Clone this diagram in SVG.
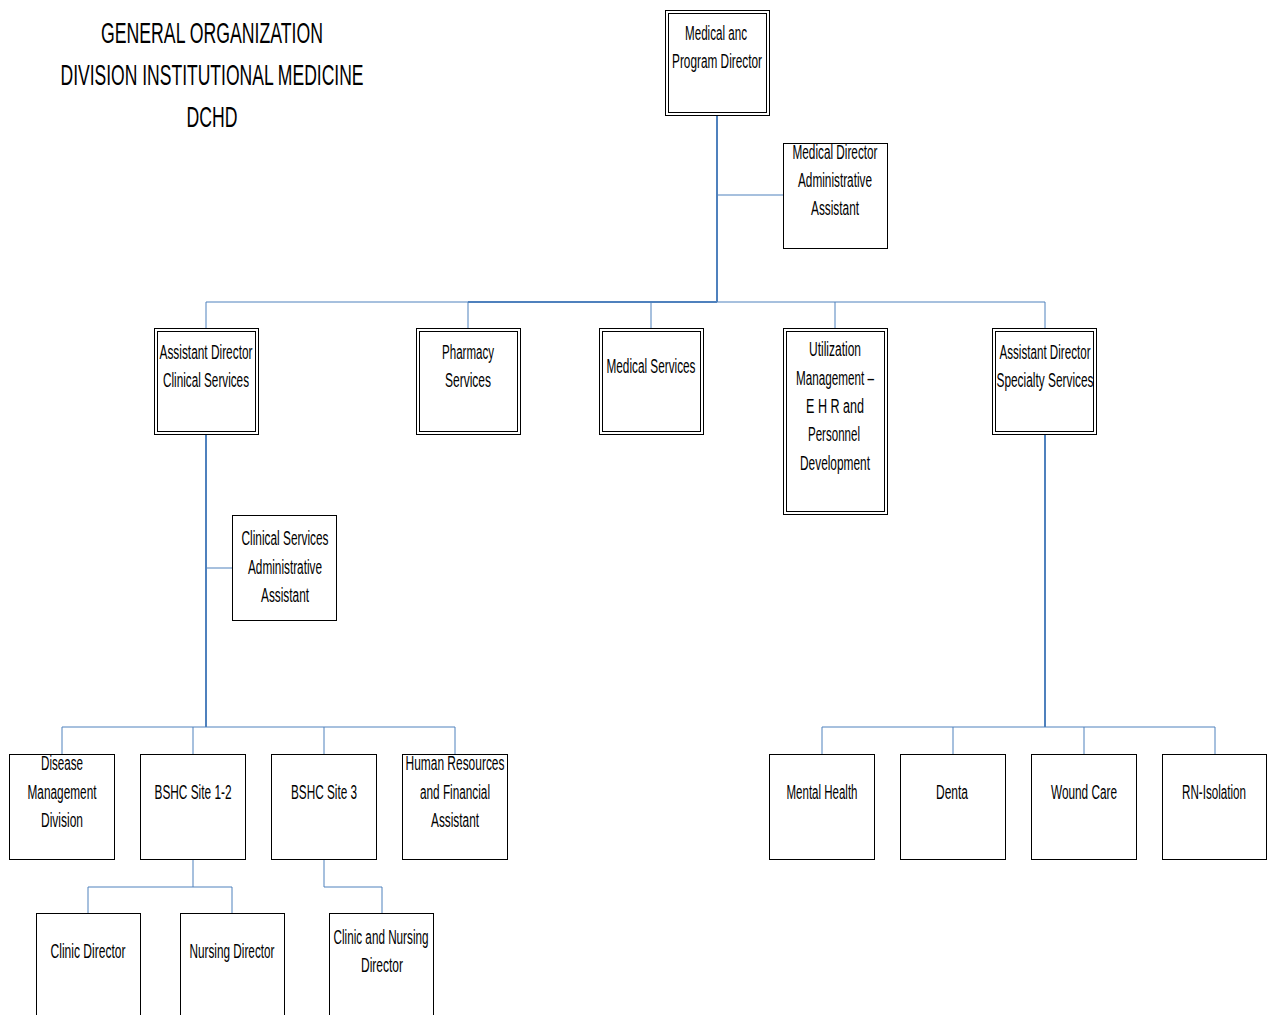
<svg xmlns="http://www.w3.org/2000/svg" width="1268" height="1015" viewBox="0 0 1268 1015">
<style>
.b{fill:#fff;stroke:#000;stroke-width:1}
.i{fill:none;stroke:#000;stroke-width:1}
.t{font-family:"Liberation Sans",Arial,sans-serif;font-size:20px;fill:#000;text-anchor:middle}
.h{font-family:"Liberation Sans",Arial,sans-serif;font-size:29px;fill:#000;text-anchor:middle}
.c{fill:none;stroke:#4F81BD;stroke-width:1}
.k{fill:none;stroke:#4F81BD;stroke-width:2}
</style>
<rect width="1268" height="1015" fill="#fff"/>
<g id="title">
<text class="h" x="212" y="43" textLength="222" lengthAdjust="spacingAndGlyphs">GENERAL ORGANIZATION</text>
<text class="h" x="212" y="85" textLength="303" lengthAdjust="spacingAndGlyphs">DIVISION INSTITUTIONAL MEDICINE</text>
<text class="h" x="212" y="127" textLength="51" lengthAdjust="spacingAndGlyphs">DCHD</text>
</g>
<g id="connectors">
<path class="k" d="M717 115V302"/>
<path class="c" d="M717 195H783"/>
<path class="c" d="M206 302H1045"/>
<path class="k" d="M468 302H717"/>
<path class="c" d="M206 302V328M468 302V328M651 302V328M835 302V328M1045 302V328"/>
<path class="k" d="M206 435V727"/>
<path class="c" d="M206 568H232"/>
<path class="c" d="M62 727H455M62 727V754M193 727V754M324 727V754M455 727V754"/>
<path class="k" d="M1045 435V727"/>
<path class="c" d="M822 727H1215M822 727V754M953 727V754M1084 727V754M1215 727V754"/>
<path class="c" d="M193 860V887M88 887H232M88 887V913M232 887V913"/>
<path class="c" d="M324 860V887H382V913"/>
</g>
<g id="n-medical-program-director">
<rect class="b" x="665.5" y="10.5" width="104" height="105"/>
<rect class="i" x="668.5" y="13.5" width="98" height="99"/>
<text class="t" x="716" y="40" textLength="62" lengthAdjust="spacingAndGlyphs">Medical anc</text>
<text class="t" x="717" y="68" textLength="90" lengthAdjust="spacingAndGlyphs">Program Director</text>
</g>
<g id="n-md-admin-assistant">
<rect class="b" x="783.5" y="143.5" width="104" height="105"/>
<text class="t" x="835" y="159" textLength="85" lengthAdjust="spacingAndGlyphs">Medical Director</text>
<text class="t" x="835" y="187" textLength="74" lengthAdjust="spacingAndGlyphs">Administrative</text>
<text class="t" x="835" y="215" textLength="48" lengthAdjust="spacingAndGlyphs">Assistant</text>
</g>
<g id="n-ad-clinical">
<rect class="b" x="154.5" y="328.5" width="104" height="106"/>
<rect class="i" x="157.5" y="331.5" width="98" height="100"/>
<text class="t" x="206" y="359" textLength="93" lengthAdjust="spacingAndGlyphs">Assistant Director</text>
<text class="t" x="206" y="387" textLength="86" lengthAdjust="spacingAndGlyphs">Clinical Services</text>
</g>
<g id="n-pharmacy">
<rect class="b" x="416.5" y="328.5" width="104" height="106"/>
<rect class="i" x="419.5" y="331.5" width="98" height="100"/>
<text class="t" x="468" y="359" textLength="52" lengthAdjust="spacingAndGlyphs">Pharmacy</text>
<text class="t" x="468" y="387" textLength="46" lengthAdjust="spacingAndGlyphs">Services</text>
</g>
<g id="n-medical-services">
<rect class="b" x="599.5" y="328.5" width="104" height="106"/>
<rect class="i" x="602.5" y="331.5" width="98" height="100"/>
<text class="t" x="651" y="373" textLength="89" lengthAdjust="spacingAndGlyphs">Medical Services</text>
</g>
<g id="n-utilization">
<rect class="b" x="783.5" y="328.5" width="104" height="186"/>
<rect class="i" x="786.5" y="331.5" width="98" height="180"/>
<text class="t" x="835" y="356" textLength="52" lengthAdjust="spacingAndGlyphs">Utilization</text>
<text class="t" x="835" y="385" textLength="78" lengthAdjust="spacingAndGlyphs">Management –</text>
<text class="t" x="835" y="413" textLength="58" lengthAdjust="spacingAndGlyphs">E H R and</text>
<text class="t" x="834" y="441" textLength="52" lengthAdjust="spacingAndGlyphs">Personnel</text>
<text class="t" x="835" y="470" textLength="70" lengthAdjust="spacingAndGlyphs">Development</text>
</g>
<g id="n-ad-specialty">
<rect class="b" x="992.5" y="328.5" width="104" height="106"/>
<rect class="i" x="995.5" y="331.5" width="98" height="100"/>
<text class="t" x="1045" y="359" textLength="91" lengthAdjust="spacingAndGlyphs">Assistant Director</text>
<text class="t" x="1045" y="387" textLength="97" lengthAdjust="spacingAndGlyphs">Specialty Services</text>
</g>
<g id="n-clinical-admin-assistant">
<rect class="b" x="232.5" y="515.5" width="104" height="105"/>
<text class="t" x="285" y="545" textLength="87" lengthAdjust="spacingAndGlyphs">Clinical Services</text>
<text class="t" x="285" y="574" textLength="74" lengthAdjust="spacingAndGlyphs">Administrative</text>
<text class="t" x="285" y="602" textLength="48" lengthAdjust="spacingAndGlyphs">Assistant</text>
</g>
<g id="n-disease-management">
<rect class="b" x="9.5" y="754.5" width="105" height="105"/>
<text class="t" x="62" y="770" textLength="42" lengthAdjust="spacingAndGlyphs">Disease</text>
<text class="t" x="62" y="799" textLength="69" lengthAdjust="spacingAndGlyphs">Management</text>
<text class="t" x="62" y="827" textLength="42" lengthAdjust="spacingAndGlyphs">Division</text>
</g>
<g id="n-bshc-1-2">
<rect class="b" x="140.5" y="754.5" width="105" height="105"/>
<text class="t" x="193" y="799" textLength="77" lengthAdjust="spacingAndGlyphs">BSHC Site 1-2</text>
</g>
<g id="n-bshc-3">
<rect class="b" x="271.5" y="754.5" width="105" height="105"/>
<text class="t" x="324" y="799" textLength="66" lengthAdjust="spacingAndGlyphs">BSHC Site 3</text>
</g>
<g id="n-hr-financial">
<rect class="b" x="402.5" y="754.5" width="105" height="105"/>
<text class="t" x="455" y="770" textLength="99" lengthAdjust="spacingAndGlyphs">Human Resources</text>
<text class="t" x="455" y="799" textLength="70" lengthAdjust="spacingAndGlyphs">and Financial</text>
<text class="t" x="455" y="827" textLength="48" lengthAdjust="spacingAndGlyphs">Assistant</text>
</g>
<g id="n-mental-health">
<rect class="b" x="769.5" y="754.5" width="105" height="105"/>
<text class="t" x="822" y="799" textLength="71" lengthAdjust="spacingAndGlyphs">Mental Health</text>
</g>
<g id="n-dental">
<rect class="b" x="900.5" y="754.5" width="105" height="105"/>
<text class="t" x="952" y="799" textLength="32" lengthAdjust="spacingAndGlyphs">Denta</text>
</g>
<g id="n-wound-care">
<rect class="b" x="1031.5" y="754.5" width="105" height="105"/>
<text class="t" x="1084" y="799" textLength="66" lengthAdjust="spacingAndGlyphs">Wound Care</text>
</g>
<g id="n-rn-isolation">
<rect class="b" x="1162.5" y="754.5" width="104" height="105"/>
<text class="t" x="1214" y="799" textLength="64" lengthAdjust="spacingAndGlyphs">RN-Isolation</text>
</g>
<g id="n-clinic-director">
<rect class="b" x="36.5" y="913.5" width="104" height="110"/>
<text class="t" x="88" y="958" textLength="75" lengthAdjust="spacingAndGlyphs">Clinic Director</text>
</g>
<g id="n-nursing-director">
<rect class="b" x="180.5" y="913.5" width="104" height="110"/>
<text class="t" x="232" y="958" textLength="85" lengthAdjust="spacingAndGlyphs">Nursing Director</text>
</g>
<g id="n-clinic-nursing-director">
<rect class="b" x="329.5" y="913.5" width="104" height="110"/>
<text class="t" x="381" y="944" textLength="95" lengthAdjust="spacingAndGlyphs">Clinic and Nursing</text>
<text class="t" x="382" y="972" textLength="42" lengthAdjust="spacingAndGlyphs">Director</text>
</g>
</svg>
